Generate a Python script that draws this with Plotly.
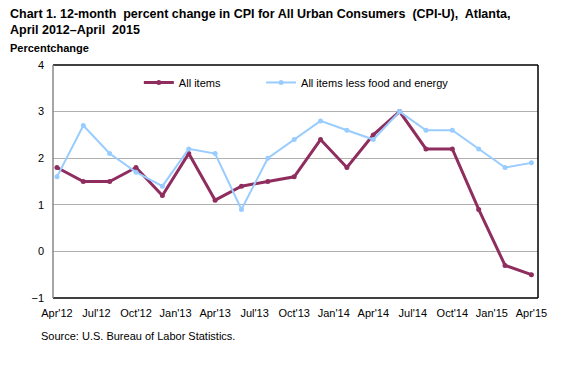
import plotly.graph_objects as go

months = list(range(0, 37, 2))  # months since Apr 2012, bimonthly
all_items = [1.8, 1.5, 1.5, 1.8, 1.2, 2.1, 1.1, 1.4, 1.5, 1.6, 2.4, 1.8, 2.5, 3.0, 2.2, 2.2, 0.9, -0.3, -0.5]
core = [1.6, 2.7, 2.1, 1.7, 1.4, 2.2, 2.1, 0.9, 2.0, 2.4, 2.8, 2.6, 2.4, 3.0, 2.6, 2.6, 2.2, 1.8, 1.9]
tick_vals = list(range(0, 37, 3))
tick_labels = ["Apr'12", "Jul'12", "Oct'12", "Jan'13", "Apr'13", "Jul'13", "Oct'13",
               "Jan'14", "Apr'14", "Jul'14", "Oct'14", "Jan'15", "Apr'15"]

purple = "#8E2D5E"
blue = "#99CCFF"
font = "Liberation Sans, Arial, sans-serif"

fig = go.Figure()
fig.add_trace(go.Scatter(x=months, y=all_items, name="All items", mode="lines+markers",
                         line=dict(color=purple, width=3), marker=dict(size=5, color=purple),
                         legend="legend"))
fig.add_trace(go.Scatter(x=months, y=core, name="All items less food and energy", mode="lines+markers",
                         line=dict(color=blue, width=2), marker=dict(size=5, color=blue),
                         legend="legend2"))

leg_common = dict(orientation="h", yanchor="middle", xanchor="left", y=0.925,
                  bgcolor="rgba(0,0,0,0)", font=dict(size=11, family=font), itemwidth=30)

fig.update_layout(
    width=562, height=359,
    margin=dict(l=45, r=32, t=57, b=69),
    paper_bgcolor="white", plot_bgcolor="white",
    font=dict(family=font, size=11, color="black"),
    showlegend=True,
    legend=dict(x=0.177, **leg_common),
    legend2=dict(x=0.429, **leg_common),
    xaxis=dict(range=[-0.3, 36.5], tickmode="array", tickvals=tick_vals, ticktext=tick_labels,
               showgrid=False, zeroline=False, showline=False, ticks="", tickfont=dict(size=11),
               tickangle=0, ticklabelstandoff=7),
    yaxis=dict(range=[-1, 4], tickvals=[-1, 0, 1, 2, 3, 4], showgrid=True, gridcolor="#B0B0B0",
               gridwidth=1, zeroline=False, showline=False, ticks="", tickfont=dict(size=11),
               ticklabelstandoff=8),
    annotations=[
        dict(text="<b>Chart 1. 12-month  percent change in CPI for All Urban Consumers  (CPI-U),  Atlanta,<br>April 2012–April  2015</b>",
             xref="paper", yref="paper", x=-0.0928, y=1.0, xanchor="left", yanchor="bottom",
             yshift=26, align="left", showarrow=False, font=dict(size=12.5, family=font)),
        dict(text="<b>Percentchange</b>", xref="paper", yref="paper", x=-0.0928, y=1.0,
             xanchor="left", yanchor="bottom", yshift=9, showarrow=False, font=dict(size=11, family=font)),
        dict(text="Source: U.S. Bureau of Labor Statistics.", xref="paper", yref="paper",
             x=-0.028, y=0, xanchor="left", yanchor="top", yshift=-30, showarrow=False,
             font=dict(size=11, family=font)),
    ],
    shapes=[
        dict(type="line", xref="paper", yref="paper", x0=0, x1=1, y0=1, y1=1, line=dict(color="black", width=1.5)),
        dict(type="line", xref="paper", yref="paper", x0=1, x1=1, y0=0, y1=1, line=dict(color="black", width=1.5)),
        dict(type="line", xref="paper", yref="paper", x0=0, x1=1, y0=0, y1=0, line=dict(color="black", width=1.5)),
        dict(type="line", xref="paper", yref="paper", x0=0, x1=0, y0=0, y1=1, line=dict(color="#888888", width=1.5)),
    ],
)

fig.write_html("out.html")
